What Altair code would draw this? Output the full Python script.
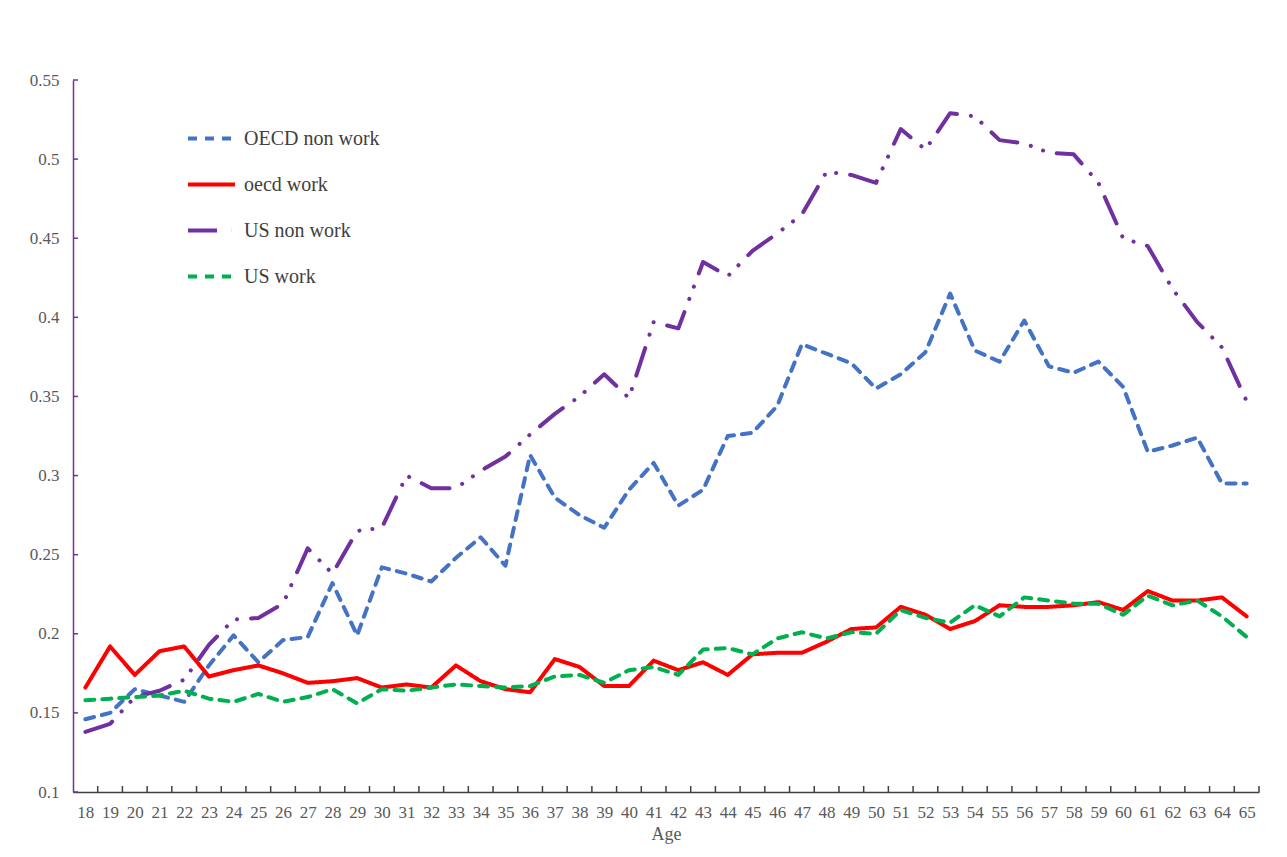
import altair as alt
import pandas as pd

ages = list(range(18, 66))
series_names = ["OECD non work", "oecd work", "US non work", "US work"]

oecd_non_work = [0.146, 0.150, 0.165, 0.161, 0.157, 0.180, 0.199, 0.182, 0.196, 0.198,
                 0.232, 0.199, 0.242, 0.238, 0.233, 0.248, 0.261, 0.243, 0.313, 0.286,
                 0.275, 0.267, 0.291, 0.308, 0.281, 0.291, 0.325, 0.327, 0.344, 0.383,
                 0.377, 0.371, 0.355, 0.364, 0.378, 0.415, 0.379, 0.372, 0.398, 0.369,
                 0.365, 0.372, 0.356, 0.315, 0.319, 0.324, 0.295, 0.295]
oecd_work = [0.166, 0.192, 0.174, 0.189, 0.192, 0.173, 0.177, 0.180, 0.175, 0.169,
             0.170, 0.172, 0.166, 0.168, 0.166, 0.180, 0.170, 0.165, 0.163, 0.184,
             0.179, 0.167, 0.167, 0.183, 0.177, 0.182, 0.174, 0.187, 0.188, 0.188,
             0.195, 0.203, 0.204, 0.217, 0.212, 0.203, 0.208, 0.218, 0.217, 0.217,
             0.218, 0.220, 0.215, 0.227, 0.221, 0.221, 0.223, 0.211]
us_non_work = [0.138, 0.143, 0.160, 0.164, 0.171, 0.193, 0.209, 0.210, 0.219, 0.254,
               0.238, 0.265, 0.267, 0.300, 0.292, 0.292, 0.303, 0.312, 0.326, 0.339,
               0.350, 0.364, 0.349, 0.397, 0.393, 0.435, 0.426, 0.442, 0.453, 0.465,
               0.492, 0.490, 0.485, 0.519, 0.506, 0.529, 0.527, 0.512, 0.510, 0.504,
               0.503, 0.485, 0.450, 0.445, 0.418, 0.397, 0.381, 0.347]
us_work = [0.158, 0.159, 0.160, 0.161, 0.164, 0.159, 0.157, 0.162, 0.157, 0.160,
           0.165, 0.156, 0.165, 0.164, 0.166, 0.168, 0.167, 0.166, 0.167, 0.173,
           0.174, 0.169, 0.177, 0.179, 0.174, 0.190, 0.191, 0.187, 0.197, 0.201,
           0.197, 0.201, 0.200, 0.215, 0.210, 0.207, 0.218, 0.211, 0.223, 0.221,
           0.219, 0.219, 0.212, 0.224, 0.218, 0.221, 0.211, 0.198]

y_ticks = [0.1, 0.15, 0.2, 0.25, 0.3, 0.35, 0.4, 0.45, 0.5, 0.55]

colors = ["#4472C4", "#FF0000", "#7030A0", "#00B050"]
dashes = [[9, 8], [1, 0], [29, 14, 0.1, 13, 0.1, 14], [9, 8]]

rows = []
for name, vals in zip(series_names, [oecd_non_work, oecd_work, us_non_work, us_work]):
    for a, v in zip(ages, vals):
        rows.append({"age": a, "value": v, "series": name})
df = pd.DataFrame(rows)

W, H = 1186, 712
FONT = "Liberation Serif"
TXT = "#595959"

xscale = alt.Scale(domain=[17.5, 65.5], nice=False, zero=False)
yscale = alt.Scale(domain=[0.1, 0.55], nice=False, zero=False)

xaxis = alt.Axis(values=ages, tickSize=0, grid=False, title="Age",
                 labelFont=FONT, labelFontSize=17, labelColor=TXT,
                 labelPadding=12, labelOverlap=False, labelFlush=False,
                 titleFont=FONT, titleFontSize=18, titleColor=TXT,
                 titleFontWeight="normal", titlePadding=5,
                 domainColor="#404040", domainWidth=1.5)
yaxis = alt.Axis(values=y_ticks, format="~g", tickSize=0, grid=False, title=None,
                 labelFont=FONT, labelFontSize=17, labelColor=TXT,
                 labelPadding=14, labelFlush=False, labelOverlap=False,
                 domainColor="#7030A0", domainWidth=1.5)

legend = alt.Legend(
    title=None, orient="none", legendX=113, legendY=33,
    symbolType="stroke", symbolSize=2209, symbolStrokeWidth=4,
    labelFont=FONT, labelFontSize=20, labelColor="#404040", labelOffset=7,
    rowPadding=10, padding=0,
)

lines = alt.Chart(df).mark_line(strokeWidth=4, strokeCap="round", strokeJoin="round").encode(
    x=alt.X("age:Q", scale=xscale, axis=xaxis),
    y=alt.Y("value:Q", scale=yscale, axis=yaxis),
    color=alt.Color("series:N", scale=alt.Scale(domain=series_names, range=colors), legend=legend),
    strokeDash=alt.StrokeDash("series:N", scale=alt.Scale(domain=series_names, range=dashes), legend=legend),
)

ytick_df = pd.DataFrame({"t": y_ticks})
yt = alt.Chart(ytick_df).mark_rule(color="#7030A0", strokeWidth=1.5).encode(
    y=alt.Y("t:Q", scale=yscale, axis=yaxis),
    x=alt.value(0), x2=alt.value(5),
)

xtick_df = pd.DataFrame({"p": [a + 0.5 for a in ages]})
xt = alt.Chart(xtick_df).mark_rule(color="#404040", strokeWidth=1.5).encode(
    x=alt.X("p:Q", scale=xscale, axis=xaxis),
    y=alt.value(H - 6), y2=alt.value(H),
)

chart = alt.layer(lines, xt, yt).properties(
    width=W, height=H,
    autosize=alt.AutoSizeParams(type="none"),
    padding={"left": 65, "top": 72, "right": 20, "bottom": 57},
    background="white",
).configure_view(stroke=None)

chart.save("out.html", embed_options={"renderer": "svg", "actions": False})
